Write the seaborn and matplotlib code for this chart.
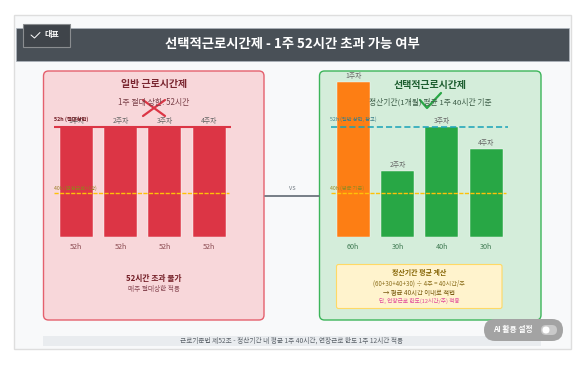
import pandas as pd
import matplotlib.pyplot as plt
import seaborn as sns
from matplotlib.patches import FancyBboxPatch, Rectangle

sns.set_theme(style="white")
plt.rcParams['font.family'] = ['Noto Sans CJK KR', 'DejaVu Sans']

weeks = ["1주차", "2주차", "3주차", "4주차"]
# drawn heights (the right panel is not to scale with its labels)
normal_heights = [52, 52, 52, 52]
normal_labels = ["52h", "52h", "52h", "52h"]
flex_heights = [73.3, 31.2, 52, 41.6]
flex_labels = ["60h", "30h", "40h", "30h"]
flex_colors = ["#fd7e14", "#28a745", "#28a745", "#28a745"]
line_upper = 52
line_lower = 21

W, H = 587, 371
fig = plt.figure(figsize=(W / 100, H / 100), dpi=100, facecolor="white")


def px_axes(x0, y0, x1, y1, z):
    ax = fig.add_axes([x0 / W, 1 - y1 / H, (x1 - x0) / W, (y1 - y0) / H], zorder=z)
    ax.patch.set_alpha(0)
    return ax


bg = px_axes(0, 0, W, H, 0)
bg.set_xlim(0, W)
bg.set_ylim(H, 0)
bg.axis("off")


def round_box(ax, x0, y0, x1, y1, r, fc, ec, lw=1.0, z=1):
    ax.add_patch(FancyBboxPatch((x0 + r, y0 + r), x1 - x0 - 2 * r, y1 - y0 - 2 * r,
                                boxstyle=f"round,pad={r},rounding_size={r}",
                                fc=fc, ec=ec, lw=lw, zorder=z))


# page card and header
bg.add_patch(Rectangle((14, 15), 557, 334, fc="#f8f9fa", ec="#dedede", lw=1))
bg.add_patch(Rectangle((15.5, 27.5), 553, 33, fc="#495057", ec="#adb5bd", lw=0.5))
round_box(bg, 43.5, 71, 264, 320, 5, "#f8d7da", "#e4606d", 1.0)
round_box(bg, 319.5, 71, 541, 320, 5, "#d4edda", "#3cb55a", 1.0)
bg.plot([265, 319], [195.5, 195.5], color="#6c757d", lw=1.3)
bg.add_patch(Rectangle((43, 336), 498, 9.5, fc="#e9ecef", ec="none"))
round_box(bg, 336.5, 264.5, 502, 308.5, 2, "#fff3cd", "#ffd965", 0.8, z=2)


def bar_panel(x0, heights, ticks, week_labels, colors, tick_color, upper_color, upper_lw, upper_ls, upper_end, lower_end):
    ax = px_axes(x0, 72, x0 + 177.3, 237, 2)
    df = pd.DataFrame({"week": week_labels, "hours": heights})
    sns.barplot(data=df, x="week", y="hours", hue="week", palette=colors, legend=False,
                width=0.745, saturation=1, edgecolor="white", linewidth=0.3, ax=ax)
    ax.set_xlim(-0.5, 3.5)
    ax.set_ylim(0, 165 / 2.115)
    ax.set_xticks(range(len(ticks)))
    ax.set_xticklabels(ticks, fontsize=5.2, color=tick_color)
    ax.tick_params(axis="x", length=0, pad=4.5)
    ax.set_yticks([])
    ax.set_xlabel("")
    ax.set_ylabel("")
    sns.despine(ax=ax, left=True, bottom=True)
    for bar, lab in zip(ax.patches, week_labels):
        ax.annotate(lab, (bar.get_x() + bar.get_width() / 2, bar.get_height()),
                    xytext=(0, 1.6), textcoords="offset points", ha="center", va="bottom",
                    fontsize=4.9, color="#666666")
    ax.plot([-0.5, upper_end], [line_upper, line_upper], color=upper_color, lw=upper_lw, ls=upper_ls)
    ax.plot([-0.5, lower_end], [line_lower, line_lower], color="#ffc107", lw=1.0, ls=(0, (3, 1)))
    return ax


bar_panel(54, normal_heights, normal_labels, weeks, ["#dc3545"] * 4, "#8a4a50",
          "#dc3545", 1.5, "-", 3.5, 3.45)
bar_panel(331, flex_heights, flex_labels, weeks, flex_colors, "#3f7a52",
          "#17a2b8", 1.1, (0, (4, 2)), 3.5, 3.45)

fg = px_axes(0, 0, W, H, 3)
fg.set_xlim(0, W)
fg.set_ylim(H, 0)
fg.axis("off")


def label(x, y, s, size, color="#333333", weight="normal", ha="center", ax=fg):
    ax.text(x, y, s, fontsize=size, color=color, fontweight=weight, ha=ha, va="center")


# header and badge
label(292, 44, "선택적근로시간제 - 1주 52시간 초과 가능 여부", 9.6, "white", "bold")
fg.add_patch(Rectangle((22.5, 23.5), 47, 23, fc="#3f444a", ec="#8a8d90", lw=0.8))
fg.plot([31, 34.5, 40], [35, 38, 32.5], color="white", lw=0.7)
label(44.5, 34, "대표", 5.8, "white", "bold", ha="left")

# left panel text
label(154, 84, "일반 근로시간제", 7.2, "#7a2630", "bold")
label(154, 102, "1주 절대 상한: 52시간", 5.7, "#7a4048")
fg.plot([143, 165], [116, 100], color="#dc3545", lw=1.6)
fg.plot([143, 165], [100, 116], color="#dc3545", lw=1.6)
label(54, 119, "52h (절대상한)", 3.8, "#721c24", "bold", ha="left")
label(54, 188, "40h (법정근로시간)", 3.8, "#9a7a20", ha="left")
label(154, 278, "52시간 초과 불가", 5.6, "#721c24", "bold")
label(154, 289.5, "매주 절대상한 적용", 4.8, "#8a4a55")

# right panel text
label(430, 85, "선택적근로시간제", 7.2, "#1d5e30", "bold")
label(430, 102, "정산기간(1개월) 평균 1주 40시간 기준", 5.6, "#3f5f4a")
fg.plot([420, 427, 441], [100, 108, 93], color="#28a745", lw=1.6)
label(330, 119, "52h (일반 상한, 참고)", 3.8, "#3d7f8a", ha="left")
label(330, 188, "40h (평균 기준)", 3.8, "#9a8a20", ha="left")
label(419, 272.5, "정산기간 평균 계산", 5, "#856404", "bold")
label(419, 284, "(60+30+40+30) ÷ 4주 = 40시간/주", 4.4, "#8a6d1a")
label(419, 293, "→ 평균 40시간 이내로 적법", 4.6, "#7a5c10")
label(419, 301, "단, 연장근로 한도(12시간/주) 적용", 4.1, "#e0479a")

# middle and footer
label(292, 188, "VS", 4, "#6c757d")
label(292, 340.5, "근로기준법 제52조 - 정산기간 내 평균 1주 40시간, 연장근로 한도 1주 12시간 적용", 4.8, "#5c636a")

# floating toggle
round_box(fg, 484, 319, 563, 341, 11, "#a3a3a3", "none", 0)
label(493, 329.5, "AI 활용 설정", 5.6, "white", "bold", ha="left")
round_box(fg, 541, 325, 557, 335, 5, "#c9c9c9", "none", 0, z=4)
round_box(fg, 542.5, 326.5, 549.5, 333.5, 3.5, "white", "none", 0, z=5)

fig.savefig("out.png", dpi=100)
